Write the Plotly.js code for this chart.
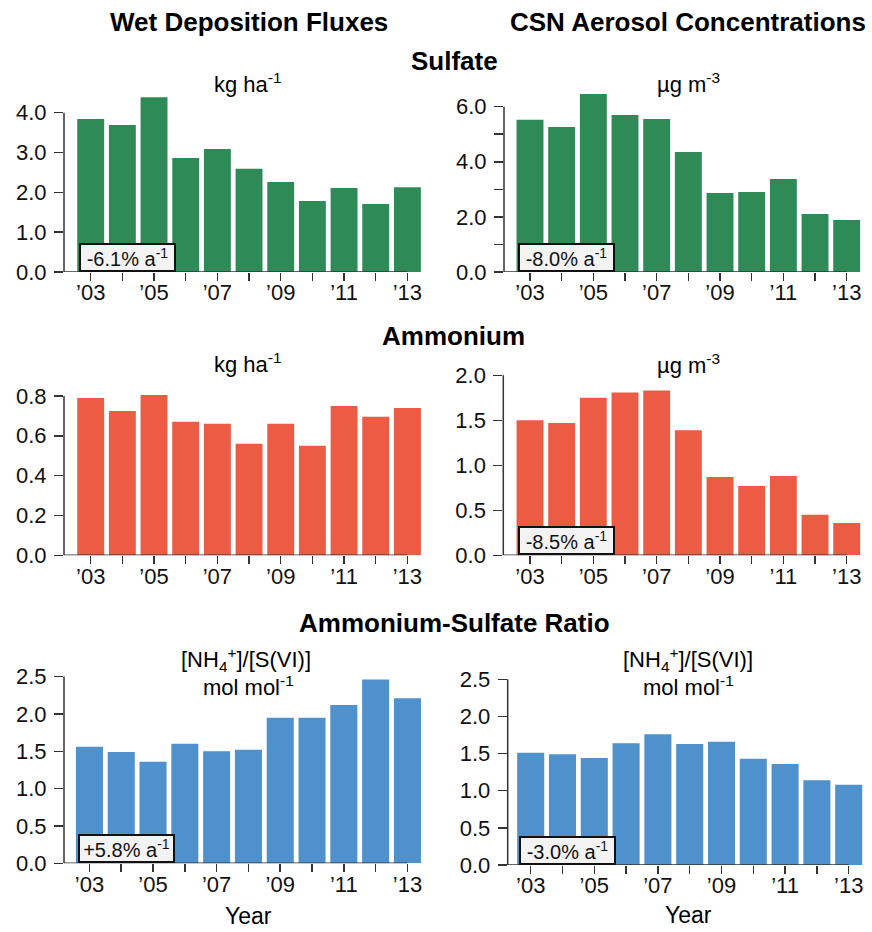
<!DOCTYPE html>
<html>
<head>
<meta charset="utf-8">
<script src="https://cdn.plot.ly/plotly-3.0.1.min.js"></script>
<style>
  html, body { margin: 0; padding: 0; background: #fff; }
  #chart { width: 872px; height: 932px; }
</style>
</head>
<body>
<div id="chart"></div>
<script>
// ---------------- data ----------------
const years = [2003, 2004, 2005, 2006, 2007, 2008, 2009, 2010, 2011, 2012, 2013];
const labelYears = [2003, 2005, 2007, 2009, 2011, 2013];
const yearLabels = ["’03", "’05", "’07", "’09", "’11", "’13"];

const wetSulfate   = [3.84, 3.69, 4.39, 2.86, 3.09, 2.59, 2.26, 1.78, 2.11, 1.71, 2.13];
const csnSulfate   = [5.52, 5.26, 6.46, 5.70, 5.55, 4.35, 2.87, 2.90, 3.37, 2.10, 1.89];
const wetAmmonium  = [0.79, 0.725, 0.805, 0.67, 0.66, 0.56, 0.66, 0.55, 0.75, 0.695, 0.74];
const csnAmmonium  = [1.50, 1.47, 1.75, 1.81, 1.83, 1.39, 0.87, 0.77, 0.88, 0.45, 0.36];
const wetRatio     = [1.56, 1.49, 1.36, 1.60, 1.50, 1.52, 1.95, 1.95, 2.12, 2.46, 2.21];
const csnRatio     = [1.51, 1.49, 1.44, 1.64, 1.76, 1.63, 1.66, 1.43, 1.36, 1.14, 1.08];

const ticksWetSulfate  = [0, 1, 2, 3, 4];
const labelsWetSulfate = ["0.0", "1.0", "2.0", "3.0", "4.0"];
const ticksCsnSulfate  = [0, 2, 4, 6];
const labelsCsnSulfate = ["0.0", "2.0", "4.0", "6.0"];
const minorCsnSulfate  = [1, 3, 5];
const ticksWetAmm      = [0, 0.2, 0.4, 0.6, 0.8];
const labelsWetAmm     = ["0.0", "0.2", "0.4", "0.6", "0.8"];
const ticksCsnAmm      = [0, 0.5, 1.0, 1.5, 2.0];
const labelsCsnAmm     = ["0.0", "0.5", "1.0", "1.5", "2.0"];
const ticksRatio       = [0, 0.5, 1.0, 1.5, 2.0, 2.5];
const labelsRatio      = ["0.0", "0.5", "1.0", "1.5", "2.0", "2.5"];

const trendWetSulfate = "-6.1% a<sup>-1</sup>";
const trendCsnSulfate = "-8.0% a<sup>-1</sup>";
const trendCsnAmm     = "-8.5% a<sup>-1</sup>";
const trendWetRatio   = "+5.8% a<sup>-1</sup>";
const trendCsnRatio   = "-3.0% a<sup>-1</sup>";

// ---------------- styling / layout ----------------
const W = 872, H = 932;
const FONT = "'Liberation Sans', Arial, Helvetica, sans-serif";
const GREEN = "#2E8B57", RED = "#EC5B43", BLUE = "#4E91CC";
const AXC = "#333333";

const panels = [
  {y: wetSulfate,  color: GREEN, L: 64,    B: 272,   ppu: 39.83, ymax: 4.5,  x0: 2002.157, ppy: 31.67, tv: ticksWetSulfate, tt: labelsWetSulfate, mv: null,            trend: trendWetSulfate},
  {y: csnSulfate,  color: GREEN, L: 504,   B: 272,   ppu: 27.56, ymax: 6.6,  x0: 2002.179, ppy: 31.67, tv: ticksCsnSulfate, tt: labelsCsnSulfate, mv: minorCsnSulfate, trend: trendCsnSulfate},
  {y: wetAmmonium, color: RED,   L: 64,    B: 555.3, ppu: 199.2, ymax: 0.85, x0: 2002.157, ppy: 31.67, tv: ticksWetAmm,     tt: labelsWetAmm,     mv: null,            trend: null},
  {y: csnAmmonium, color: RED,   L: 503.3, B: 555.3, ppu: 90.0,  ymax: 2.05, x0: 2002.157, ppy: 31.67, tv: ticksCsnAmm,     tt: labelsCsnAmm,     mv: null,            trend: trendCsnAmm},
  {y: wetRatio,    color: BLUE,  L: 64,    B: 863.3, ppu: 74.67, ymax: 2.55, x0: 2002.2,   ppy: 31.8,  tv: ticksRatio,      tt: labelsRatio,      mv: null,            trend: trendWetRatio},
  {y: csnRatio,    color: BLUE,  L: 507.7, B: 865,   ppu: 74.27, ymax: 2.55, x0: 2002.277, ppy: 31.8,  tv: ticksRatio,      tt: labelsRatio,      mv: null,            trend: trendCsnRatio}
];

const XR = 2013.55;
const BARW = 0.85;
const data = [];
const layout = {
  width: W, height: H,
  margin: {l: 0, r: 0, t: 0, b: 0},
  paper_bgcolor: "#fff", plot_bgcolor: "rgba(0,0,0,0)",
  showlegend: false,
  font: {family: FONT, color: "#000"},
  shapes: [], annotations: []
};

panels.forEach((p, i) => {
  const n = i === 0 ? "" : String(i + 1);
  const xa = "x" + n, ya = "y" + n;
  const Rpx = p.L + (XR - p.x0) * p.ppy;
  const Tpx = p.B - p.ymax * p.ppu;
  data.push({
    type: "bar", x: years, y: p.y, width: BARW,
    marker: {color: p.color, line: {width: 0}},
    xaxis: xa, yaxis: ya, hoverinfo: "skip"
  });
  layout["xaxis" + n] = {
    domain: [p.L / W, Rpx / W], range: [p.x0, XR], anchor: ya,
    tickmode: "array", tickvals: labelYears, ticktext: yearLabels,
    ticks: "outside", ticklen: 8, tickwidth: 1.5, tickcolor: AXC,
    minor: {tickmode: "array", tickvals: years, ticks: "outside", ticklen: 8, tickwidth: 1.5, tickcolor: AXC, showgrid: false},
    showline: false, showgrid: false, zeroline: false, fixedrange: true,
    tickfont: {family: FONT, size: 22, color: "#111"}, ticklabelstandoff: -7
  };
  const yax = {
    domain: [1 - p.B / H, 1 - Tpx / H], range: [0, p.ymax], anchor: xa,
    tickmode: "array", tickvals: p.tv, ticktext: p.tt,
    ticks: "outside", ticklen: 9, tickwidth: 1.5, tickcolor: AXC,
    showline: false, showgrid: false, zeroline: false, fixedrange: true,
    tickfont: {family: FONT, size: 22, color: "#111"}, ticklabelstandoff: 3
  };
  if (p.mv) {
    yax.minor = {tickmode: "array", tickvals: p.mv, ticks: "outside", ticklen: 9, tickwidth: 1.5, tickcolor: AXC, showgrid: false};
  }
  layout["yaxis" + n] = yax;
  // axis lines spanning the ticks (R style)
  layout.shapes.push({type: "line", xref: xa + " domain", yref: ya, x0: 0, x1: 0,
    y0: p.tv[0], y1: p.tv[p.tv.length - 1], line: {color: AXC, width: 1.5}, layer: "above"});
  layout.shapes.push({type: "line", xref: xa, yref: ya, x0: p.x0, x1: years[years.length - 1],
    y0: 0, y1: 0, line: {color: AXC, width: 1.5}, layer: "above"});
  if (p.trend) {
    layout.annotations.push({
      xref: xa, yref: ya, x: years[0] - BARW / 2 + 0.06, y: 0,
      xanchor: "left", yanchor: "bottom", showarrow: false,
      text: p.trend, font: {family: FONT, size: 20, color: "#111"},
      bgcolor: "#f3f3f3", bordercolor: "#111", borderwidth: 2, borderpad: 2,
      width: 89, height: 21
    });
  }
});

function label(text, cx, baseline, size, bold) {
  layout.annotations.push({
    xref: "paper", yref: "paper", x: cx / W, y: 1 - (baseline - 0.35 * size) / H,
    xanchor: "center", yanchor: "middle", showarrow: false,
    text: bold ? "<b>" + text + "</b>" : text,
    font: {family: FONT, size: size, color: "#000"}
  });
}
label("Wet Deposition Fluxes", 248.8, 30.7, 26, true);
label("CSN Aerosol Concentrations", 688, 30.7, 26, true);
label("Sulfate", 454, 70, 26, true);
label("Ammonium", 453.5, 345, 26, true);
label("Ammonium-Sulfate Ratio", 454.7, 632.3, 26, true);
label("kg ha<sup>-1</sup>", 248, 90.7, 22, false);
label("µg m<sup>-3</sup>", 688, 91, 22, false);
label("kg ha<sup>-1</sup>", 248, 370.7, 22, false);
label("µg m<sup>-3</sup>", 688, 371.7, 22, false);
label("[NH<sub>4</sub><sup>+</sup>]/[S(VI)]", 246, 667, 22, false);
label("mol mol<sup>-1</sup>", 248, 694, 22, false);
label("[NH<sub>4</sub><sup>+</sup>]/[S(VI)]", 688.3, 667, 22, false);
label("mol mol<sup>-1</sup>", 688, 694, 22, false);
label("Year", 249, 924, 23, false);
label("Year", 688.7, 923.3, 23, false);

Plotly.newPlot("chart", data, layout, {displayModeBar: false, staticPlot: true});
</script>
</body>
</html>
